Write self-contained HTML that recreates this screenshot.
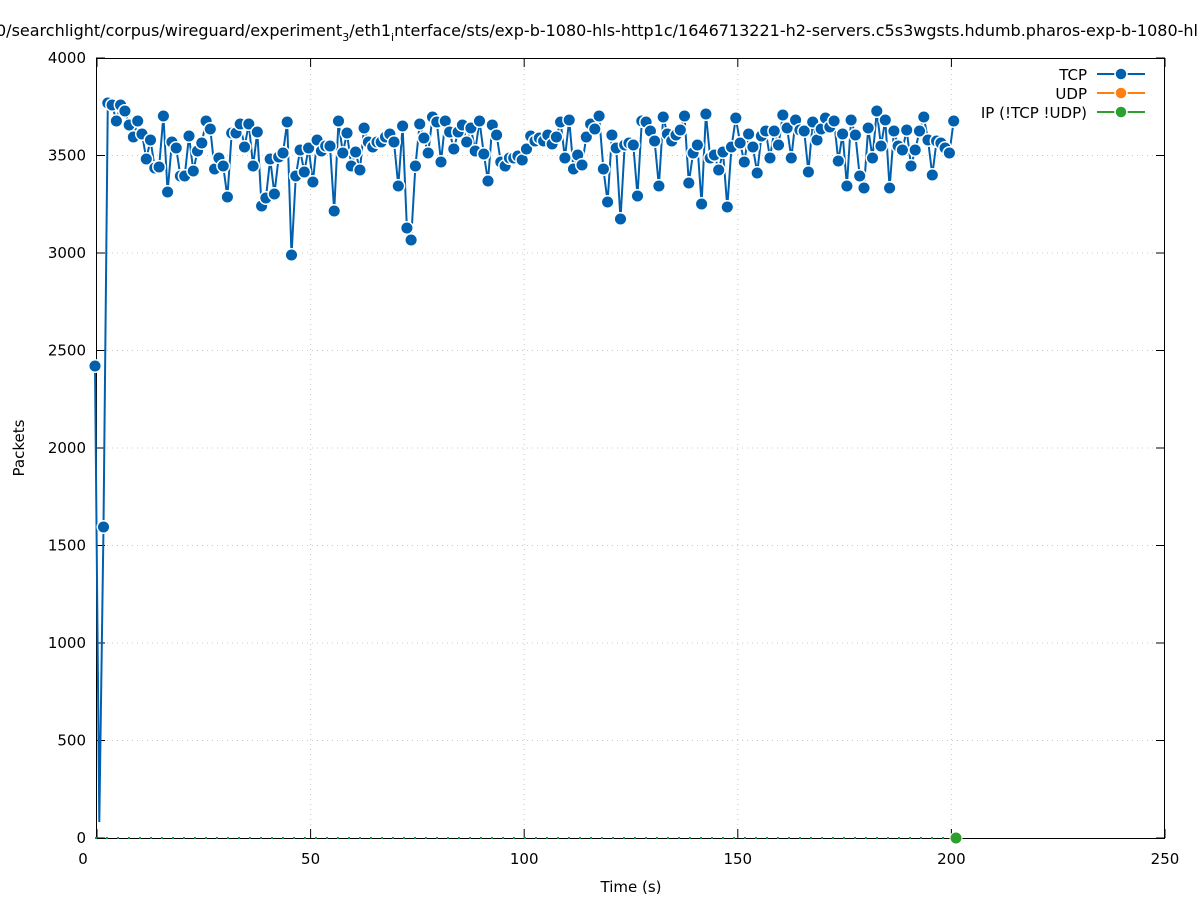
<!DOCTYPE html>
<html><head><meta charset="utf-8"><style>
html,body{margin:0;padding:0;background:#fff;width:1197px;height:900px;overflow:hidden}
svg text{font-family:"DejaVu Sans","Liberation Sans",sans-serif;font-size:15px;fill:#000}
</style></head><body>
<svg id="s" width="1197" height="900" xmlns="http://www.w3.org/2000/svg">
<text x="-4" y="36" style="font-size:16px">0/searchlight/corpus/wireguard/experiment<tspan style="font-size:11px" dy="5">3</tspan><tspan dy="-5">/eth1</tspan><tspan style="font-size:11px" dy="5">i</tspan><tspan dy="-5">nterface/sts/exp-b-1080-hls-http1c/1646713221-h2-servers.c5s3wgsts.hdumb.pharos-exp-b-1080-hls</tspan></text>
<g id="grid" stroke="#c8c8c8" stroke-width="1" stroke-dasharray="1,4"></g>
<rect x="96.5" y="58.5" width="1068" height="780" fill="none" stroke="#000" stroke-width="1"/>
<g id="ticks" stroke="#000" stroke-width="1"></g>
<g id="labels"></g>
<text x="631" y="892" text-anchor="middle">Time (s)</text>
<text transform="translate(24,448) rotate(-90)" text-anchor="middle">Packets</text>
<line x1="95" y1="838" x2="956" y2="838" stroke="#009e3a" stroke-width="2" stroke-dasharray="2,9"/>
<g id="data"></g>
<circle cx="956" cy="838" r="6" fill="#2ca02c" stroke="#fff" stroke-width="1"/>
<text x="1087" y="80" text-anchor="end">TCP</text>
<line x1="1097" y1="74" x2="1145" y2="74" stroke="#0060ad" stroke-width="2"/>
<circle cx="1121" cy="74" r="6" fill="#0060ad" stroke="#fff" stroke-width="1.5"/>
<text x="1087" y="99" text-anchor="end">UDP</text>
<line x1="1097" y1="93" x2="1145" y2="93" stroke="#ff7f0e" stroke-width="2"/>
<circle cx="1121" cy="93" r="6" fill="#ff7f0e" stroke="#fff" stroke-width="1.5"/>
<text x="1087" y="118" text-anchor="end">IP (!TCP  !UDP)</text>
<line x1="1097" y1="112" x2="1145" y2="112" stroke="#2ca02c" stroke-width="2"/>
<circle cx="1121" cy="112" r="6" fill="#2ca02c" stroke="#fff" stroke-width="1.5"/>
</svg>
<script>
var NS="http://www.w3.org/2000/svg";
function el(p,t,a){var e=document.createElementNS(NS,t);for(var k in a)e.setAttribute(k,a[k]);p.appendChild(e);return e;}
var g=document.getElementById('grid'),tk=document.getElementById('ticks'),lb=document.getElementById('labels');
for(var v=0;v<=4000;v+=500){var y=838-v*0.195;
 if(v>0&&v<4000)el(g,'line',{x1:97,y1:y,x2:1164,y2:y});
 el(tk,'line',{x1:96,y1:y,x2:105,y2:y});el(tk,'line',{x1:1165,y1:y,x2:1156,y2:y});
 var t=el(lb,'text',{x:86,y:y+5,'text-anchor':'end'});t.textContent=v;}
for(var v=0;v<=250;v+=50){var x=97+v*4.272;
 if(v>0&&v<250)el(g,'line',{x1:x,y1:59,x2:x,y2:837});
 el(tk,'line',{x1:x,y1:838,x2:x,y2:829});el(tk,'line',{x1:x,y1:58,x2:x,y2:67});
 var t=el(lb,'text',{x:(v==0?83:x),y:864,'text-anchor':'middle'});t.textContent=v;}
var ys=[366,822,527,103,105,121,105,111,125,137,121,134,159,140,168,167,116,192,142,148,176,176,136,171,151,143,121,129,169,158,166,197,133,133,124,147,124,166,132,206,198,159,194,157,153,122,255,176,150,172,148,182,140,151,146,146,211,121,153,133,166,152,170,128,142,147,142,142,137,134,142,186,126,228,240,166,124,138,153,117,122,162,121,132,149,132,125,142,128,151,121,154,181,125,135,162,166,158,158,156,160,149,136,141,138,141,135,144,137,122,158,120,169,155,165,137,124,129,116,169,202,135,148,219,145,143,145,196,121,122,131,141,186,117,134,141,135,130,116,183,153,145,204,114,158,155,170,152,207,147,118,143,162,134,147,173,136,131,158,131,145,115,128,158,120,130,131,172,122,140,129,118,127,121,161,134,186,120,135,176,188,128,158,111,146,120,188,131,146,150,130,166,150,131,117,140,175,141,143,148,153,121];
var d=document.getElementById('data'),pts=[];
for(var i=0;i<ys.length;i++){pts.push((95+4.272*i).toFixed(1)+','+ys[i]);}
el(d,'polyline',{points:pts.join(' '),fill:'none',stroke:'#0060ad','stroke-width':2});
for(var i=0;i<ys.length;i++){if(i==1)continue;el(d,'circle',{cx:(95+4.272*i).toFixed(1),cy:ys[i],r:6.3,fill:'#0060ad',stroke:'#fff','stroke-width':1.5});}
</script>
</body></html>
